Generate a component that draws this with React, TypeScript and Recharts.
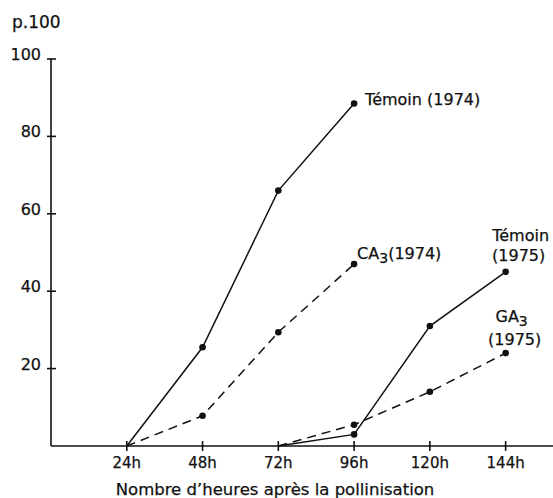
import React from 'react';
import { LineChart, Line, XAxis, YAxis } from 'recharts';

const hours = [24, 48, 72, 96, 120, 144];
const temoin1974 = [0, 25.5, 66, 88.5, null, null];
const ca1974 = [0, 7.8, 29.4, 47, null, null];
const temoin1975 = [null, null, 0, 3, 31, 45];
const ga1975 = [null, null, 0, 5.5, 14, 24];
const yTicks = [20, 40, 60, 80, 100];

const data = hours.map((h, i) => ({
  h,
  t74: temoin1974[i],
  ca74: ca1974[i],
  t75: temoin1975[i],
  ga75: ga1975[i],
}));

const FONT = '"DejaVu Sans", sans-serif';
const INK = '#111';
const textProps = { fontFamily: FONT, fontSize: 16, fill: INK, stroke: INK, strokeWidth: 0.25 };

// y ticks cross the axis line, label sits a bit above the tick
const YTick = (props: any) => {
  const { x, y, payload } = props;
  const axisX = x + 10;
  return (
    <g>
      <path d={`M${axisX - 4},${y}H${axisX + 5}`} stroke={INK} strokeWidth={1.6} fill="none" />
      <text x={x} y={y} dy={1} textAnchor="end" {...textProps}>
        {payload.value}
      </text>
    </g>
  );
};

const XTick = (props: any) => {
  const { x, y, payload } = props;
  const axisY = y - 12;
  return (
    <g>
      <path d={`M${x},${axisY - 5}V${axisY + 5}`} stroke={INK} strokeWidth={1.6} fill="none" />
      <text x={x} y={y} dy={10} textAnchor="middle" {...textProps} fontSize={15}>
        {`${payload.value}h`}
      </text>
    </g>
  );
};

const dot = (props: any) => {
  const { cx, cy, value, index } = props;
  if (value == null || value === 0) return <g key={index} />;
  return <circle key={index} cx={cx} cy={cy} r={3.3} fill={INK} />;
};

const lastIndex = (arr: (number | null)[]) => {
  let k = -1;
  arr.forEach((v, i) => {
    if (v != null) k = i;
  });
  return k;
};

const seriesLabel = (arr: (number | null)[], render: (x: number, y: number) => React.ReactNode) =>
  (props: any) => {
    const { x, y, index } = props;
    if (index !== lastIndex(arr)) return null;
    return <g>{render(x, y)}</g>;
  };

export default function App() {
  return (
    <div style={{ position: 'absolute', left: 0, top: 0, background: '#fff' }}>
      <LineChart
        width={553}
        height={498}
        data={data}
        margin={{ top: 59, right: 0, left: 11, bottom: 22 }}
      >
        <XAxis
          dataKey="h"
          type="number"
          domain={[0, 159]}
          ticks={hours}
          tickSize={0}
          tickMargin={12}
          tick={<XTick />}
          axisLine={{ stroke: INK, strokeWidth: 1.6 }}
          height={30}
          label={{
            content: (p: any) => (
              <text x={275} y={p.viewBox.y + 49} textAnchor="middle" {...textProps} fontSize={16.5}>
                Nombre d’heures après la pollinisation
              </text>
            ),
          }}
        />
        <YAxis
          type="number"
          domain={[0, 100]}
          ticks={yTicks}
          tickSize={0}
          tickMargin={10}
          width={40}
          tick={<YTick />}
          axisLine={{ stroke: INK, strokeWidth: 1.6 }}
          label={{
            content: (p: any) => (
              <text x={12} y={p.viewBox.y - 31} {...textProps} fontSize={17}>
                p.100
              </text>
            ),
          }}
        />
        <Line
          dataKey="t74"
          stroke={INK}
          strokeWidth={1.5}
          dot={dot}
          isAnimationActive={false}
          label={seriesLabel(temoin1974, (x, y) => (
            <text x={x + 11} y={y + 1} {...textProps}>Témoin (1974)</text>
          ))}
        />
        <Line
          dataKey="ca74"
          stroke={INK}
          strokeWidth={1.5}
          strokeDasharray="9 6"
          dot={dot}
          isAnimationActive={false}
          label={seriesLabel(ca1974, (x, y) => (
            <text x={x + 3} y={y - 5} {...textProps}>
              CA<tspan dy={4} fontSize={14}>3</tspan><tspan dy={-4}>(1974)</tspan>
            </text>
          ))}
        />
        <Line
          dataKey="t75"
          stroke={INK}
          strokeWidth={1.5}
          dot={dot}
          isAnimationActive={false}
          label={seriesLabel(temoin1975, (x, y) => (
            <g>
              <text x={x + 15} y={y - 31} textAnchor="middle" {...textProps}>Témoin</text>
              <text x={x + 13} y={y - 11} textAnchor="middle" {...textProps}>(1975)</text>
            </g>
          ))}
        />
        <Line
          dataKey="ga75"
          stroke={INK}
          strokeWidth={1.5}
          strokeDasharray="9 6"
          dot={dot}
          isAnimationActive={false}
          label={seriesLabel(ga1975, (x, y) => (
            <g>
              <text x={x + 6} y={y - 31} textAnchor="middle" {...textProps}>
                GA<tspan dy={4} fontSize={14}>3</tspan>
              </text>
              <text x={x + 9} y={y - 8} textAnchor="middle" {...textProps}>(1975)</text>
            </g>
          ))}
        />
      </LineChart>
    </div>
  );
}
